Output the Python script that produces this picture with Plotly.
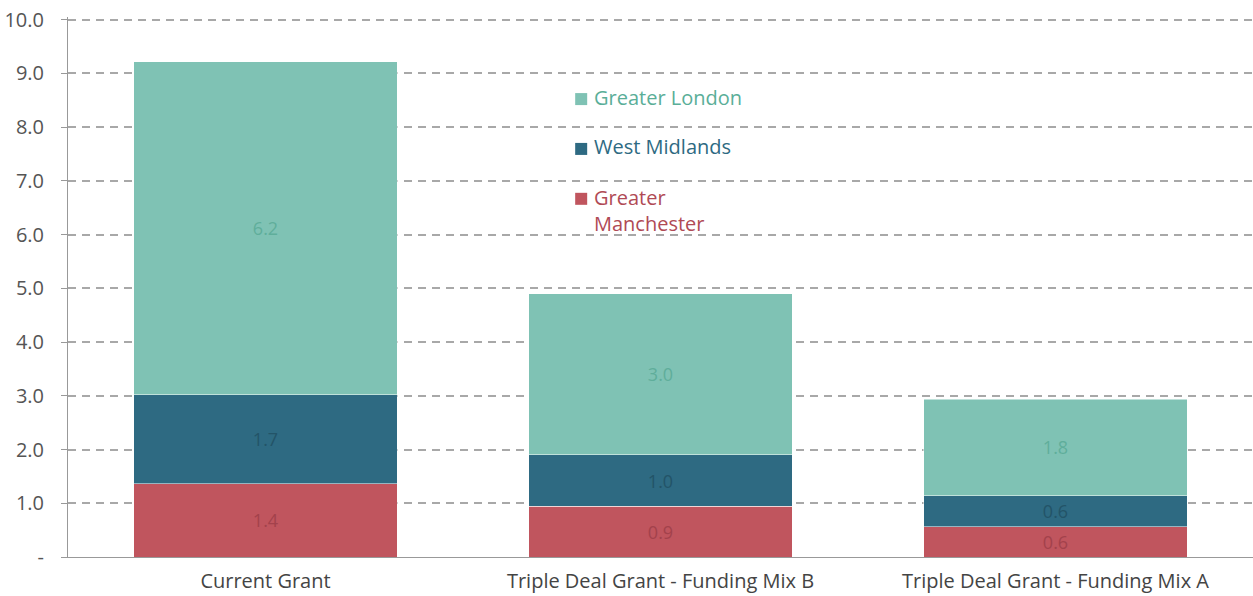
import plotly.graph_objects as go

categories = ["Current Grant", "Triple Deal Grant - Funding Mix B", "Triple Deal Grant - Funding Mix A"]
greater_manchester = [1.36, 0.94, 0.56]
west_midlands = [1.66, 0.96, 0.58]
greater_london = [6.20, 3.00, 1.80]
y_ticks = [0, 1, 2, 3, 4, 5, 6, 7, 8, 9, 10]
y_tick_text = ["-", "1.0", "2.0", "3.0", "4.0", "5.0", "6.0", "7.0", "8.0", "9.0", "10.0"]

# name, values, fill, label colour, legend text colour, legend y (paper)
series = [
    ("Greater<br>Manchester", greater_manchester, "#c0555e", "#a3424c", "#b04a55", 0.6633),
    ("West Midlands", west_midlands, "#2e6a82", "#235468", "#2e6a82", 0.7557),
    ("Greater London", greater_london, "#7fc2b4", "#5fae9b", "#5aae98", 0.848),
]

FONT = "Open Sans, Roboto, sans-serif"
fig = go.Figure()
for name, vals, fill, txt, ltxt, ly in series:
    multi = "<br>" in name
    fig.add_trace(go.Bar(
        x=categories, y=vals, name=name.replace("<br>", " "), showlegend=False,
        marker=dict(color=fill, line=dict(color="rgba(255,255,255,0.5)", width=1)),
        text=[f"{v:.1f}" for v in vals], textposition="inside", insidetextanchor="middle",
        textfont=dict(color=txt, size=18, family=FONT), hoverinfo="skip",
    ))
    # legend entry: colour key + coloured text
    fig.add_shape(type="rect", xref="paper", yref="paper",
                  xsizemode="pixel", ysizemode="pixel",
                  xanchor=0.428, yanchor=ly, x0=0, x1=12, y0=-6, y1=6,
                  fillcolor=fill, line=dict(width=0))
    fig.add_annotation(xref="paper", yref="paper", x=0.442, y=ly,
                       xanchor="left", yanchor="top" if multi else "middle",
                       yshift=17 if multi else 2,
                       text=name, showarrow=False, align="left",
                       font=dict(color=ltxt, size=20, family=FONT))

fig.update_layout(
    barmode="stack", bargap=1/3, showlegend=False,
    width=1253, height=596,
    margin=dict(l=68, r=0, t=17, b=39),
    plot_bgcolor="white", paper_bgcolor="white",
    font=dict(family=FONT, size=18, color="#555555"),
    uniformtext=dict(minsize=8, mode="show"),
)
fig.update_yaxes(range=[0, 10.05], tickvals=y_ticks, ticktext=y_tick_text, automargin=False,
                 showgrid=True, gridcolor="#a8a8a8", gridwidth=1.5, griddash="8px,6px",
                 showline=True, linecolor="#999999", linewidth=1,
                 ticks="outside", ticklen=6, tickcolor="#999999", ticklabelstandoff=13,
                 tickfont=dict(size=20, color="#555555"), zeroline=False)
fig.update_xaxes(showline=True, linecolor="#999999", linewidth=1, ticks="", automargin=False,
                 ticklabelstandoff=6,
                 tickfont=dict(size=20, color="#444444"))

fig.write_html("out.html", config={"displayModeBar": False},
               post_script="document.body.style.margin='0';")
